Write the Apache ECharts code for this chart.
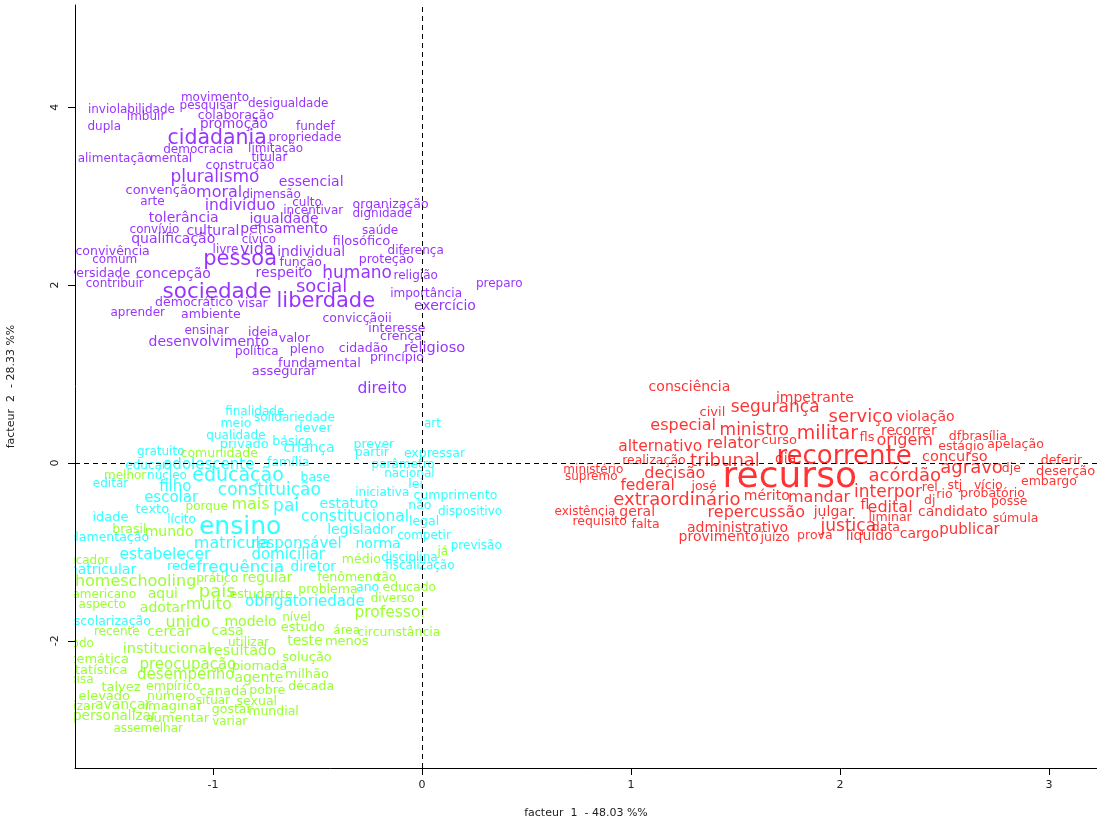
<!DOCTYPE html>
<html>
<head>
<meta charset="utf-8">
<script src="https://cdn.jsdelivr.net/npm/echarts@6/dist/echarts.min.js"></script>
<style>
  html, body { margin: 0; padding: 0; background: #fff; }
  #chart { width: 1097px; height: 817px; }
</style>
</head>
<body>
<div id="chart"></div>
<script>
// [word, facteur 1, facteur 2, relative weight]
var purpleWords = [
  ['movimento', -0.99, 4.10, 1], ['inviolabilidade', -1.39, 3.97, 1], ['pesquisar', -1.02, 4.02, 1],
  ['desigualdade', -0.64, 4.04, 1], ['imbuir', -1.32, 3.89, 1], ['colaboração', -0.89, 3.91, 1.04],
  ['dupla', -1.52, 3.78, 1], ['promoção', -0.90, 3.81, 1.13], ['propriedade', -0.56, 3.66, 1],
  ['fundef', -0.51, 3.78, 1], ['cidadania', -0.98, 3.65, 1.71], ['democracia', -1.07, 3.52, 1],
  ['limitação', -0.70, 3.53, 1], ['alimentação', -1.47, 3.42, 1], ['mental', -1.20, 3.42, 1],
  ['titular', -0.73, 3.43, 1], ['construção', -0.87, 3.34, 1.04], ['pluralismo', -0.99, 3.21, 1.42],
  ['essencial', -0.53, 3.16, 1.17], ['convenção', -1.25, 3.06, 1.08], ['moral', -0.97, 3.04, 1.33],
  ['dimensão', -0.72, 3.02, 1], ['culto', -0.55, 2.93, 1], ['organização', -0.15, 2.90, 1.04],
  ['arte', -1.29, 2.94, 1], ['incentivar', -0.52, 2.84, 1], ['indivíduo', -0.87, 2.89, 1.29],
  ['dignidade', -0.19, 2.80, 1], ['tolerância', -1.14, 2.75, 1.17], ['igualdade', -0.66, 2.74, 1.17],
  ['convívio', -1.28, 2.62, 1], ['cultural', -1.00, 2.61, 1.17], ['pensamento', -0.66, 2.63, 1.17],
  ['saúde', -0.20, 2.61, 1], ['qualificação', -1.19, 2.51, 1.17], ['cívico', -0.78, 2.51, 1],
  ['filosófico', -0.29, 2.49, 1.08], ['convivência', -1.48, 2.38, 1.04], ['livre', -0.94, 2.40, 1],
  ['vida', -0.79, 2.40, 1.33], ['individual', -0.53, 2.37, 1.17], ['diferença', -0.03, 2.39, 1],
  ['comum', -1.47, 2.28, 1], ['pessoa', -0.87, 2.29, 1.75], ['função', -0.58, 2.25, 1.04],
  ['proteção', -0.17, 2.29, 1.04], ['diversidade', -1.57, 2.13, 1.04], ['contribuir', -1.47, 2.01, 1],
  ['concepção', -1.19, 2.12, 1.17], ['respeito', -0.66, 2.13, 1.17], ['humano', -0.31, 2.13, 1.42],
  ['religião', -0.03, 2.10, 1], ['preparo', 0.37, 2.01, 1], ['social', -0.48, 1.98, 1.5],
  ['sociedade', -0.98, 1.92, 1.79], ['liberdade', -0.46, 1.82, 1.75], ['importância', 0.02, 1.90, 1],
  ['democrático', -1.09, 1.80, 1.04], ['visar', -0.81, 1.79, 1.04], ['exercício', 0.11, 1.76, 1.17],
  ['aprender', -1.36, 1.69, 1], ['ambiente', -1.01, 1.67, 1.04], ['convicçãoii', -0.31, 1.62, 1.04],
  ['ensinar', -1.03, 1.48, 1], ['ideia', -0.76, 1.47, 1.04], ['interesse', -0.12, 1.51, 1.04],
  ['crença', -0.10, 1.42, 1.04], ['valor', -0.61, 1.40, 1.04], ['desenvolvimento', -1.02, 1.36, 1.17],
  ['religioso', 0.06, 1.29, 1.21], ['política', -0.79, 1.25, 1], ['pleno', -0.55, 1.27, 1.04],
  ['cidadão', -0.28, 1.28, 1.04], ['princípio', -0.12, 1.18, 1.04], ['fundamental', -0.49, 1.12, 1.08],
  ['assegurar', -0.66, 1.03, 1.08], ['direito', -0.19, 0.83, 1.29]
];

var cyanWords = [
  ['finalidade', -0.80, 0.58, 1], ['solidariedade', -0.61, 0.51, 1], ['meio', -0.89, 0.44, 1.04],
  ['art', 0.05, 0.44, 1], ['dever', -0.52, 0.39, 1.08], ['qualidade', -0.89, 0.30, 1],
  ['básico', -0.62, 0.24, 1.04], ['privado', -0.85, 0.21, 1.08], ['prever', -0.23, 0.21, 1.04],
  ['criança', -0.54, 0.16, 1.17], ['gratuito', -1.25, 0.12, 1], ['partir', -0.24, 0.11, 1.04],
  ['expressar', 0.06, 0.10, 1.04], ['família', -0.64, 0.00, 1.04], ['parâmetro', -0.09, -0.02, 1],
  ['educar', -1.32, -0.03, 1], ['adolescente', -1.02, -0.02, 1.25], ['núcleo', -1.22, -0.15, 1],
  ['educação', -0.88, -0.15, 1.58], ['base', -0.51, -0.17, 1.04], ['nacional', -0.06, -0.12, 1],
  ['editar', -1.49, -0.24, 1], ['lei', -0.03, -0.24, 1.04], ['filho', -1.18, -0.27, 1.25],
  ['constituição', -0.73, -0.31, 1.42], ['iniciativa', -0.19, -0.34, 1], ['cumprimento', 0.16, -0.37, 1.04],
  ['escolar', -1.20, -0.39, 1.25], ['pai', -0.65, -0.49, 1.42], ['estatuto', -0.35, -0.47, 1.17],
  ['não', -0.01, -0.48, 1.04], ['texto', -1.29, -0.52, 1.08], ['dispositivo', 0.23, -0.55, 1],
  ['idade', -1.49, -0.62, 1.08], ['constitucional', -0.32, -0.61, 1.29], ['lícito', -1.15, -0.64, 1],
  ['legal', 0.01, -0.66, 1.04], ['ensino', -0.87, -0.72, 2.08], ['legislador', -0.29, -0.76, 1.17],
  ['regulamentação', -1.55, -0.84, 1.04], ['competir', 0.01, -0.82, 1], ['matricula', -0.91, -0.91, 1.33],
  ['responsável', -0.60, -0.91, 1.25], ['norma', -0.21, -0.92, 1.17], ['previsão', 0.26, -0.93, 1],
  ['estabelecer', -1.23, -1.04, 1.29], ['domiciliar', -0.64, -1.04, 1.25], ['disciplina', -0.06, -1.07, 1],
  ['matricular', -1.54, -1.21, 1.17], ['rede', -1.15, -1.17, 1.08], ['frequência', -0.87, -1.18, 1.38],
  ['diretor', -0.52, -1.18, 1.13], ['fiscalização', -0.01, -1.16, 1], ['obrigatoriedade', -0.56, -1.57, 1.25],
  ['ano', -0.26, -1.40, 1.04], ['escolarização', -1.50, -1.78, 1.04]
];

var greenWords = [
  ['comunidade', -0.97, 0.10, 1.04], ['melhor', -1.42, -0.15, 1], ['mais', -0.82, -0.47, 1.33],
  ['porque', -1.03, -0.49, 1], ['brasil', -1.40, -0.75, 1.04], ['mundo', -1.21, -0.78, 1.17],
  ['já', 0.10, -1.00, 1], ['educador', -1.63, -1.10, 1], ['médio', -0.29, -1.09, 1.04],
  ['homeschooling', -1.37, -1.34, 1.33], ['prático', -0.98, -1.30, 1], ['regular', -0.74, -1.30, 1.17],
  ['fenômeno', -0.35, -1.29, 1.04], ['tão', -0.17, -1.29, 1.04], ['americano', -1.52, -1.48, 1],
  ['aqui', -1.24, -1.48, 1.17], ['país', -0.98, -1.45, 1.5], ['estudante', -0.77, -1.48, 1.04],
  ['problema', -0.45, -1.43, 1.04], ['educado', -0.06, -1.40, 1.04], ['diverso', -0.14, -1.53, 1],
  ['aspecto', -1.53, -1.60, 1], ['adotar', -1.24, -1.63, 1.17], ['muito', -1.02, -1.60, 1.33],
  ['professor', -0.15, -1.69, 1.29], ['unido', -1.12, -1.80, 1.33], ['modelo', -0.82, -1.79, 1.17],
  ['nível', -0.60, -1.74, 1], ['recente', -1.46, -1.90, 1], ['cercar', -1.21, -1.91, 1.17],
  ['casa', -0.93, -1.89, 1.17], ['estudo', -0.57, -1.85, 1.08], ['área', -0.36, -1.89, 1],
  ['circunstância', -0.11, -1.91, 1.04], ['teste', -0.56, -2.01, 1.17], ['menos', -0.36, -2.01, 1.08],
  ['utilizar', -0.83, -2.02, 1], ['método', -1.68, -2.03, 1], ['institucional', -1.22, -2.10, 1.21],
  ['resultado', -0.86, -2.12, 1.21], ['temática', -1.54, -2.21, 1.08], ['solução', -0.55, -2.19, 1.08],
  ['preocupação', -1.12, -2.27, 1.25], ['pior', -0.85, -2.29, 1.08], ['nada', -0.72, -2.29, 1.04],
  ['estatística', -1.57, -2.34, 1.08], ['desempenho', -1.13, -2.39, 1.25], ['agente', -0.78, -2.42, 1.17],
  ['milhão', -0.55, -2.38, 1.08], ['pisa', -1.63, -2.44, 1], ['talvez', -1.44, -2.53, 1.08],
  ['empírico', -1.19, -2.52, 1.04], ['canadá', -0.95, -2.57, 1.08], ['pobre', -0.74, -2.56, 1.04],
  ['década', -0.53, -2.52, 1.04], ['elevado', -1.52, -2.63, 1.08], ['número', -1.20, -2.63, 1.04],
  ['situar', -1.00, -2.67, 1], ['sexual', -0.79, -2.69, 1.04], ['valorizar', -1.69, -2.74, 1.04],
  ['avançar', -1.43, -2.72, 1.17], ['imaginar', -1.19, -2.74, 1.08], ['gostar', -0.91, -2.78, 1.04],
  ['mundial', -0.71, -2.80, 1.04], ['personalizar', -1.47, -2.85, 1.13], ['aumentar', -1.17, -2.87, 1.08],
  ['variar', -0.92, -2.91, 1], ['assemelhar', -1.31, -2.99, 1]
];

var redWords = [
  ['consciência', 1.28, 0.85, 1.17], ['impetrante', 1.88, 0.73, 1.17], ['civil', 1.39, 0.57, 1.08],
  ['segurança', 1.69, 0.62, 1.42], ['serviço', 2.10, 0.51, 1.5], ['violação', 2.41, 0.51, 1.17],
  ['especial', 1.25, 0.42, 1.33], ['ministro', 1.59, 0.36, 1.42], ['militar', 1.94, 0.33, 1.58],
  ['fls', 2.13, 0.28, 1.08], ['recorrer', 2.33, 0.36, 1.17], ['origem', 2.31, 0.25, 1.33],
  ['df', 2.55, 0.29, 1.04], ['brasília', 2.69, 0.30, 1.04], ['apelação', 2.84, 0.21, 1.04],
  ['estágio', 2.58, 0.18, 1.04], ['relator', 1.49, 0.22, 1.33], ['curso', 1.71, 0.25, 1.08],
  ['alternativo', 1.14, 0.18, 1.29], ['realização', 1.11, 0.02, 1.04], ['tribunal', 1.45, 0.02, 1.5],
  ['dia', 1.74, 0.04, 1.17], ['recorrente', 2.02, 0.06, 2.17], ['concurso', 2.55, 0.06, 1.21],
  ['deferir', 3.06, 0.02, 1.04], ['ministério', 0.82, -0.08, 1], ['supremo', 0.81, -0.16, 1],
  ['decisão', 1.21, -0.12, 1.33], ['recurso', 1.76, -0.16, 3], ['agravo', 2.63, -0.06, 1.5],
  ['dje', 2.82, -0.06, 1.04], ['deserção', 3.08, -0.10, 1.08], ['acórdão', 2.31, -0.15, 1.5],
  ['embargo', 3.00, -0.21, 1.04], ['federal', 1.08, -0.26, 1.29], ['josé', 1.35, -0.27, 1.04],
  ['rel', 2.43, -0.28, 1.04], ['stj', 2.55, -0.26, 1.04], ['vício', 2.71, -0.26, 1.04],
  ['extraordinário', 1.22, -0.42, 1.5], ['mérito', 1.65, -0.37, 1.17], ['mandar', 1.90, -0.39, 1.33],
  ['interpor', 2.23, -0.33, 1.42], ['dj', 2.43, -0.42, 1.04], ['rio', 2.50, -0.36, 1.04],
  ['probatório', 2.73, -0.35, 1.04], ['posse', 2.81, -0.44, 1.04], ['existência', 0.78, -0.55, 1],
  ['geral', 1.03, -0.55, 1.17], ['repercussão', 1.60, -0.56, 1.33], ['julgar', 1.97, -0.55, 1.17],
  ['fl', 2.12, -0.48, 1.17], ['edital', 2.24, -0.51, 1.33], ['candidato', 2.54, -0.56, 1.17],
  ['requisito', 0.85, -0.66, 1.04], ['falta', 1.07, -0.69, 1.04], ['liminar', 2.24, -0.62, 1.04],
  ['súmula', 2.84, -0.63, 1.04], ['administrativo', 1.51, -0.73, 1.17], ['justiça', 2.04, -0.72, 1.42],
  ['data', 2.22, -0.73, 1.04], ['prova', 1.88, -0.82, 1.04], ['líquido', 2.14, -0.83, 1.17],
  ['cargo', 2.38, -0.80, 1.17], ['publicar', 2.62, -0.76, 1.25], ['provimento', 1.42, -0.84, 1.17],
  ['juízo', 1.69, -0.84, 1.04]
];

var xTicks = [-1, 0, 1, 2, 3];
var yTicks = [-2, 0, 2, 4];

var BASE_FONT = 12;
var FONT = 'DejaVu Sans';

function wordSeries(words, color) {
    return {
        type: 'scatter',
        clip: false,
        symbolSize: 1,
        itemStyle: { color: 'transparent' },
        silent: true,
        z: 3,
        label: {
            show: true,
            position: 'inside',
            color: color,
            fontFamily: FONT,
            formatter: function (p) { return p.data.name; }
        },
        data: words.map(function (w) {
            return {
                name: w[0],
                value: [w[1], w[2]],
                label: { fontSize: Math.round(BASE_FONT * w[3] * 10) / 10 }
            };
        })
    };
}

var myChart = echarts.init(document.getElementById('chart'));
var series = [
    wordSeries(purpleWords, '#8000FF'),
    wordSeries(cyanWords, '#00FFFF'),
    wordSeries(greenWords, '#80FF00'),
    wordSeries(redWords, '#FF0000')
];
series.push({
    type: 'scatter',
    data: [],
    z: 2,
    markLine: {
        silent: true,
        symbol: 'none',
        label: { show: false },
        lineStyle: { color: '#000', type: [5, 4], width: 1 },
        data: [{ xAxis: 0 }, { yAxis: 0 }]
    }
});

var option = {
    backgroundColor: '#fff',
    animation: false,
    grid: { left: 75, right: 0, top: 5, bottom: 49, containLabel: false, outerBoundsMode: 'none' },
    xAxis: {
        type: 'value',
        min: -1.66,
        max: 3.23,
        z: 20,
        name: 'facteur  1  - 48.03 %%',
        nameLocation: 'middle',
        nameGap: 40,
        nameTextStyle: { fontFamily: FONT, fontSize: 11, color: '#222' },
        splitLine: { show: false },
        axisLine: { onZero: false, lineStyle: { color: '#000' } },
        axisTick: { customValues: xTicks, length: 7, lineStyle: { color: '#000' } },
        axisLabel: { customValues: xTicks, fontFamily: FONT, fontSize: 11, color: '#222', margin: 12 }
    },
    yAxis: {
        type: 'value',
        min: -3.43,
        max: 5.15,
        z: 20,
        name: 'facteur  2  - 28.33 %%',
        nameLocation: 'middle',
        nameGap: 58,
        nameRotate: 90,
        nameTextStyle: { fontFamily: FONT, fontSize: 11, color: '#222' },
        splitLine: { show: false },
        axisLine: { show: true, onZero: false, lineStyle: { color: '#000' } },
        axisTick: { show: true, customValues: yTicks, length: 7, lineStyle: { color: '#000' } },
        axisLabel: { customValues: yTicks, rotate: 90, fontFamily: FONT, fontSize: 11, color: '#222', margin: 14 }
    },
    graphic: [{
        type: 'rect',
        z: 10,
        shape: { x: 0, y: 0, width: 74, height: 817 },
        style: { fill: '#fff' }
    }],
    series: series
};

myChart.setOption(option);
</script>
</body>
</html>
